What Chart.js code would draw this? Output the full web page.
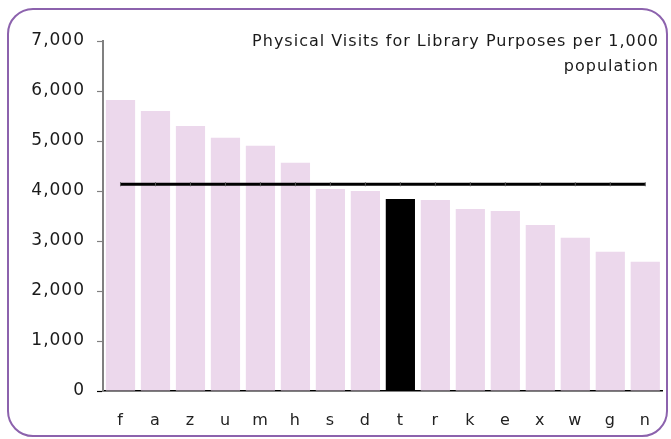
<!DOCTYPE html>
<html>
<head>
<meta charset="utf-8">
<script src="https://cdn.jsdelivr.net/npm/chart.js@4.4.0/dist/chart.umd.min.js"></script>
<style>
  html, body { margin: 0; padding: 0; background: #ffffff; }
  #wrap { position: relative; width: 671px; height: 439px; }
  #frame { position: absolute; left: 7px; top: 8px; width: 657px; height: 425px;
           border: 2px solid #8c62ad; border-radius: 26px; }
  #c { position: absolute; left: 0; top: 0; }
</style>
</head>
<body>
<div id="wrap">
  <div id="frame"></div>
  <canvas id="c" width="671" height="439"></canvas>
</div>
<script>
const categories = ['f','a','z','u','m','h','s','d','t','r','k','e','x','w','g','n'];
const visits = [5820, 5600, 5300, 5065, 4905, 4565, 4040, 4000, 3840, 3820, 3640, 3600, 3320, 3065, 2785, 2585];
const highlighted = 't';
const averageValue = 4135;
const averageLine = categories.map(() => averageValue);
const yTicks = [0, 1000, 2000, 3000, 4000, 5000, 6000, 7000];
const titleLines = ['Physical Visits for Library Purposes per 1,000', 'population'];

const FONT = '"DejaVu Sans", Verdana, sans-serif';

const spacingPlugin = {
  id: 'spacing',
  beforeUpdate(chart) { chart.ctx.letterSpacing = '1px'; },
  beforeDraw(chart) { chart.ctx.letterSpacing = '1px'; }
};

const titlePlugin = {
  id: 'innerTitle',
  afterDraw(chart) {
    const ctx = chart.ctx;
    ctx.save();
    ctx.letterSpacing = '1px';
    ctx.font = '16px ' + FONT;
    ctx.fillStyle = '#1a1a1a';
    ctx.textAlign = 'right';
    ctx.textBaseline = 'alphabetic';
    ctx.fillText(titleLines[0], 659, 46);
    ctx.fillText(titleLines[1], 659, 71);
    ctx.restore();
  }
};

new Chart(document.getElementById('c'), {
  data: {
    labels: categories,
    datasets: [
      {
        type: 'line',
        label: 'Average',
        data: averageLine,
        borderColor: '#000000',
        borderWidth: 3,
        pointStyle: 'line',
        rotation: 90,
        pointRadius: 2,
        pointBorderWidth: 1,
        pointBorderColor: '#555555',
        fill: false,
        order: 0
      },
      {
        type: 'bar',
        label: 'Visits',
        data: visits,
        backgroundColor: categories.map(c => c === highlighted ? '#000000' : '#ecd8ec'),
        borderWidth: 0,
        barPercentage: 0.835,
        categoryPercentage: 1.0,
        order: 1
      }
    ]
  },
  options: {
    responsive: false,
    animation: false,
    devicePixelRatio: 1,
    layout: { padding: { left: 0, right: 3, top: 41, bottom: 0 } },
    plugins: {
      legend: { display: false },
      title: { display: false },
      tooltip: { enabled: false }
    },
    scales: {
      x: {
        type: 'category',
        offset: true,
        afterFit(scale) { scale.height = 48; },
        grid: { display: false, drawTicks: false },
        border: { display: true, color: '#000000', width: 1.5 },
        ticks: { color: '#222222', font: { family: FONT, size: 16 }, padding: 20, maxRotation: 0, autoSkip: false }
      },
      y: {
        min: 0,
        max: 7000,
        afterBuildTicks(scale) { scale.ticks = yTicks.map(v => ({ value: v })); },
        afterFit(scale) { scale.width = 103; },
        grid: {
          drawOnChartArea: false,
          drawTicks: true,
          tickLength: 6,
          tickWidth: 1.2,
          tickColor: (ctx) => ctx.tick && ctx.tick.value === 0 ? '#000000' : '#808080'
        },
        border: { display: true, color: '#808080', width: 2 },
        ticks: {
          color: '#1a1a1a',
          font: { family: FONT, size: 17 },
          padding: 12,
          callback: (v) => Number(v).toLocaleString('en-US')
        }
      }
    }
  },
  plugins: [spacingPlugin, titlePlugin]
});
</script>
</body>
</html>
